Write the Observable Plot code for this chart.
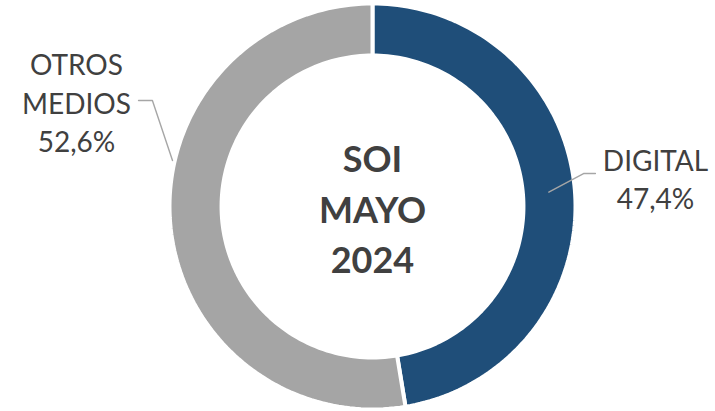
<!DOCTYPE html>
<html>
<head>
<meta charset="utf-8">
<script src="https://cdn.jsdelivr.net/npm/d3@7"></script>
<script src="https://cdn.jsdelivr.net/npm/@observablehq/plot@0.6"></script>
<style>
  html, body { margin: 0; padding: 0; background: #ffffff; }
  #chart svg { display: block; }
</style>
</head>
<body>
<div id="chart"></div>
<script>
// ---- data ----
const categories = ["DIGITAL", "OTROS MEDIOS"];
const values = [47.4, 52.6];
const valueLabels = ["47,4%", "52,6%"];
const labelLines = [["DIGITAL"], ["OTROS", "MEDIOS"]];
const centerLines = ["SOI", "MAYO", "2024"];
const colors = ["#1f4e79", "#a5a5a5"];

// ---- geometry (unit radius space) ----
const outerR = 1.01, innerR = 0.751;
const pie = d3.pie().sort(null).startAngle(0).endAngle(2 * Math.PI);
const arcs = pie(values);

const ringPoints = [];
arcs.forEach((a, i) => {
  const n = 120;
  for (let k = 0; k <= n; k++) {
    const t = a.startAngle + (a.endAngle - a.startAngle) * k / n;
    ringPoints.push({cat: categories[i], x: outerR * Math.sin(t), y: outerR * Math.cos(t)});
  }
  for (let k = n; k >= 0; k--) {
    const t = a.startAngle + (a.endAngle - a.startAngle) * k / n;
    ringPoints.push({cat: categories[i], x: innerR * Math.sin(t), y: innerR * Math.cos(t)});
  }
});

// label layout (unit radius space)
const labelLayout = [
  {text: [1.408, 0.144], elbow: [[1.109, 0.164], [1.05, 0.164]], endAngle: arcs[0].startAngle + (arcs[0].endAngle - arcs[0].startAngle) / 2, endR: 0.88},
  {text: [-1.473, 0.522], elbow: [[-1.164, 0.527], [-1.095, 0.527]], endPoint: [-0.995, 0.229]}
];

const labels = categories.map((c, i) => ({
  cat: c,
  text: [...labelLines[i], valueLabels[i]].join("\n"),
  x: labelLayout[i].text[0],
  y: labelLayout[i].text[1]
}));

const leaderPoints = [];
labelLayout.forEach((l, i) => {
  l.elbow.forEach(p => leaderPoints.push({cat: categories[i], x: p[0], y: p[1]}));
  const end = l.endPoint ? l.endPoint : [l.endR * Math.sin(l.endAngle), l.endR * Math.cos(l.endAngle)];
  leaderPoints.push({cat: categories[i], x: end[0], y: end[1]});
});

const chart = Plot.plot({
  width: 715,
  height: 411,
  margin: 0,
  style: {background: "#ffffff", fontFamily: "Lato, sans-serif"},
  x: {domain: [-1, 1], range: [171, 573], axis: null},
  y: {domain: [-1, 1], range: [407, 5], axis: null},
  color: {domain: categories, range: colors},
  marks: [
    Plot.line(ringPoints, {x: "x", y: "y", z: "cat", fill: "cat", stroke: "#ffffff", strokeWidth: 4, curve: "linear-closed"}),
    Plot.line(leaderPoints, {x: "x", y: "y", z: "cat", stroke: "#a6a6a6", strokeWidth: 1.4}),
    Plot.text(labels, {x: "x", y: "y", text: "text", fontSize: 28, lineHeight: 1.37, fill: "#404040", fontFamily: "Lato, sans-serif"}),
    Plot.text([centerLines.join("\n")], {x: () => 0, y: () => 0, text: d => d, fontSize: 36, fontWeight: "bold", lineHeight: 1.39, fill: "#404040", fontFamily: "Lato, sans-serif"})
  ]
});

document.getElementById("chart").appendChild(chart);
</script>
</body>
</html>
